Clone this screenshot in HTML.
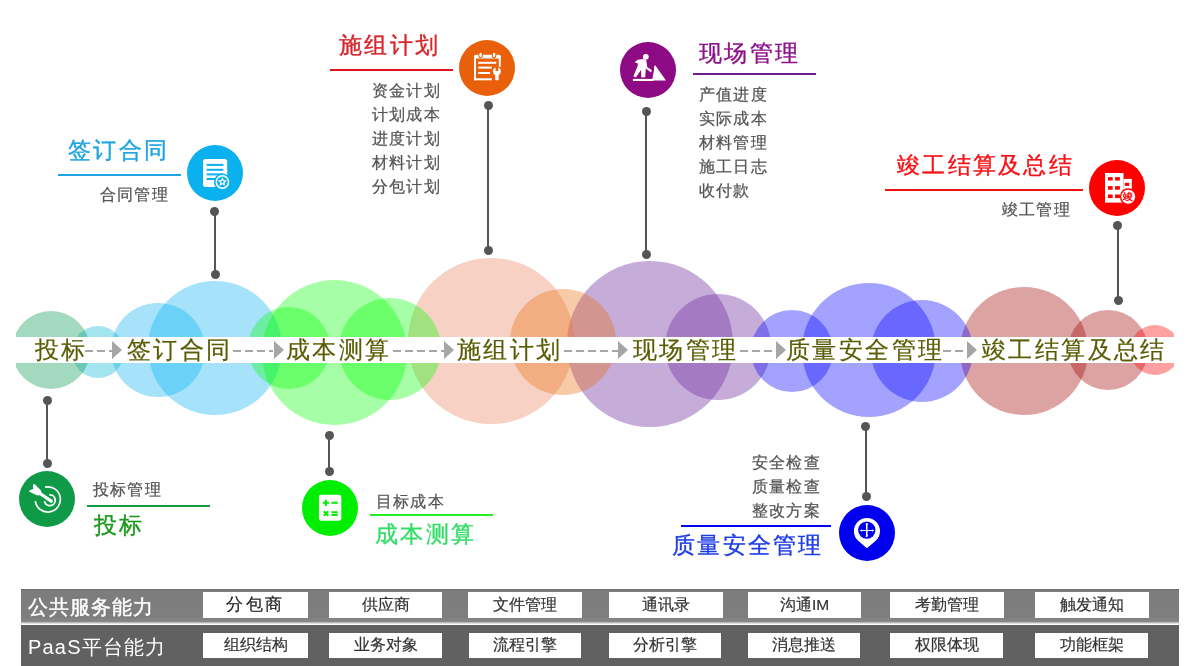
<!DOCTYPE html>
<html><head><meta charset="utf-8">
<style>
html,body{margin:0;padding:0;background:#fff;}
.a{will-change:transform;}
body{width:1200px;height:666px;position:relative;overflow:hidden;font-family:"Liberation Sans",sans-serif;}
.a{position:absolute;white-space:nowrap;line-height:1;}
.band{position:absolute;left:16px;top:0;width:1158px;height:666px;overflow:hidden;}
.c{position:absolute;border-radius:50%;}
.bt{font-size:24px;letter-spacing:2.4px;color:#5a5c04;top:338px;-webkit-text-stroke:0.2px currentColor;}
.tt{font-size:23px;letter-spacing:2.3px;-webkit-text-stroke:0.35px currentColor;}
.gt{font-size:16px;letter-spacing:1.2px;color:#555;-webkit-text-stroke:0.25px currentColor;}
.ul{position:absolute;height:2px;}
.dash{position:absolute;top:350px;height:2px;background:repeating-linear-gradient(90deg,#a6a6a6 0 8px,transparent 8px 12px);}
.tri{position:absolute;top:341px;width:0;height:0;border-top:9.8px solid transparent;border-bottom:9.8px solid transparent;border-left:10px solid #a6a6a6;}
.ln{position:absolute;width:2px;background:#555;}
.dot{position:absolute;width:9px;height:9px;border-radius:50%;background:#555;}
.ic{position:absolute;width:56px;height:56px;border-radius:50%;}
.ic svg{position:absolute;left:0;top:0;}
.bar{position:absolute;left:21px;width:1158px;}
.bx{position:absolute;background:#fff;color:#333;text-align:center;font-size:15.5px;will-change:transform;-webkit-text-stroke:0.2px #333;}
</style></head><body>
<div class="band">
 <div class="c" style="left:551.3px;top:261px;width:166px;height:166px;background:rgba(112,48,160,0.4)"></div>
 <div class="c" style="left:649px;top:294px;width:106px;height:106px;background:rgba(112,48,160,0.4)"></div>
 <div class="c" style="left:944px;top:287px;width:128px;height:128px;background:rgba(160,0,0,0.36)"></div>
 <div class="c" style="left:1052px;top:310.3px;width:80px;height:80px;background:rgba(160,0,0,0.36)"></div>
 <div class="c" style="left:1114px;top:325.3px;width:50px;height:50px;background:rgba(255,0,0,0.37)"></div>
 <div class="c" style="left:392px;top:258px;width:166px;height:166px;background:rgba(232,124,83,0.35)"></div>
 <div class="c" style="left:493.5px;top:289px;width:106px;height:106px;background:rgba(232,106,6,0.35)"></div>
 <div class="c" style="left:735px;top:309.5px;width:82px;height:82px;background:rgba(0,0,255,0.36)"></div>
 <div class="c" style="left:786.3px;top:283.3px;width:134px;height:134px;background:rgba(0,0,255,0.36)"></div>
 <div class="c" style="left:854.8px;top:299.8px;width:102px;height:102px;background:rgba(0,0,255,0.36)"></div>
 <div class="c" style="left:95px;top:303px;width:94px;height:94px;background:rgba(0,176,240,0.35)"></div>
 <div class="c" style="left:131.5px;top:281px;width:134px;height:134px;background:rgba(0,176,240,0.35)"></div>
 <div class="c" style="left:232.3px;top:307px;width:82px;height:82px;background:rgba(0,255,0,0.35)"></div>
 <div class="c" style="left:246px;top:279.5px;width:145px;height:145px;background:rgba(0,255,0,0.35)"></div>
 <div class="c" style="left:322.8px;top:297.8px;width:102px;height:102px;background:rgba(0,255,0,0.35)"></div>
 <div class="c" style="left:55.5px;top:325.7px;width:52px;height:52px;background:rgba(0,180,208,0.36)"></div>
 <div class="c" style="left:-4.5px;top:311px;width:78px;height:78px;background:rgba(0,150,77,0.36)"></div>
 <div style="position:absolute;left:0;top:337px;width:1158px;height:26px;background:#fff"></div>
</div>
<!-- band text -->
<div class="a bt" style="left:34.8px">投标</div>
<div class="a bt" style="left:127px">签订合同</div>
<div class="a bt" style="left:286px">成本测算</div>
<div class="a bt" style="left:457px">施组计划</div>
<div class="a bt" style="left:633px">现场管理</div>
<div class="a bt" style="left:786px">质量安全管理</div>
<div class="a bt" style="left:982px">竣工结算及总结</div>
<div class="dash" style="left:85px;width:27px"></div><div class="tri" style="left:112px"></div>
<div class="dash" style="left:233px;width:40px"></div><div class="tri" style="left:274px"></div>
<div class="dash" style="left:393px;width:51px"></div><div class="tri" style="left:444px"></div>
<div class="dash" style="left:564px;width:54px"></div><div class="tri" style="left:618px"></div>
<div class="dash" style="left:740px;width:36px"></div><div class="tri" style="left:776px"></div>
<div class="dash" style="left:943px;width:24px"></div><div class="tri" style="left:967px"></div>
<!-- connectors -->
<div class="ln" style="left:214px;top:211px;height:63px"></div><div class="dot" style="left:210px;top:207px"></div><div class="dot" style="left:211px;top:269.6px"></div>
<div class="ln" style="left:487.3px;top:105px;height:145px"></div><div class="dot" style="left:483.5px;top:100.5px"></div><div class="dot" style="left:484px;top:245.8px"></div>
<div class="ln" style="left:645.3px;top:111px;height:143px"></div><div class="dot" style="left:641.5px;top:107px"></div><div class="dot" style="left:642px;top:249.5px"></div>
<div class="ln" style="left:1117px;top:225px;height:75px"></div><div class="dot" style="left:1113px;top:220.5px"></div><div class="dot" style="left:1114px;top:295.5px"></div>
<div class="ln" style="left:46.3px;top:400px;height:63px"></div><div class="dot" style="left:42.5px;top:395.5px"></div><div class="dot" style="left:43px;top:458.5px"></div>
<div class="ln" style="left:328px;top:435px;height:36px"></div><div class="dot" style="left:324.5px;top:430.5px"></div><div class="dot" style="left:324.5px;top:466.5px"></div>
<div class="ln" style="left:865px;top:426px;height:70px"></div><div class="dot" style="left:860.5px;top:421.5px"></div><div class="dot" style="left:862px;top:492px"></div>
<!-- groups: titles -->
<div class="a tt" style="left:67.5px;top:138.5px;color:#1ea4e2">签订合同</div>
<div class="ul" style="left:58px;top:174px;width:123px;background:#1ea4e2"></div>
<div class="a gt" style="left:100px;top:186.5px">合同管理</div>

<div class="a tt" style="left:339px;top:34px;color:#d6262c">施组计划</div>
<div class="ul" style="left:330px;top:69px;width:123px;background:#e0141c"></div>
<div class="a gt" style="left:371.5px;top:82.5px">资金计划</div>
<div class="a gt" style="left:371.5px;top:106.5px">计划成本</div>
<div class="a gt" style="left:371.5px;top:130.5px">进度计划</div>
<div class="a gt" style="left:371.5px;top:154.5px">材料计划</div>
<div class="a gt" style="left:371.5px;top:178.5px">分包计划</div>

<div class="a tt" style="left:699px;top:41.5px;color:#8c1289">现场管理</div>
<div class="ul" style="left:693px;top:73px;width:123px;background:#6a1b8e"></div>
<div class="a gt" style="left:698.5px;top:87px">产值进度</div>
<div class="a gt" style="left:698.5px;top:111px">实际成本</div>
<div class="a gt" style="left:698.5px;top:135px">材料管理</div>
<div class="a gt" style="left:698.5px;top:159px">施工日志</div>
<div class="a gt" style="left:698.5px;top:183px">收付款</div>

<div class="a tt" style="left:897px;top:154px;color:#f80f14">竣工结算及总结</div>
<div class="ul" style="left:885px;top:189px;width:198px;background:#ee1111"></div>
<div class="a gt" style="left:1002px;top:202px">竣工管理</div>

<div class="a gt" style="left:93px;top:482px">投标管理</div>
<div class="ul" style="left:87px;top:505px;width:123px;background:#149b40"></div>
<div class="a tt" style="left:94px;top:514px;color:#1a981a">投标</div>

<div class="a gt" style="left:375.5px;top:493.5px">目标成本</div>
<div class="ul" style="left:370px;top:514px;width:123px;background:#22ee22"></div>
<div class="a tt" style="left:374.5px;top:523px;color:#33dd66">成本测算</div>

<div class="a gt" style="left:752px;top:455px">安全检查</div>
<div class="a gt" style="left:752px;top:479px">质量检查</div>
<div class="a gt" style="left:752px;top:503px">整改方案</div>
<div class="ul" style="left:681px;top:525px;width:150px;background:#0000ee"></div>
<div class="a tt" style="left:671.5px;top:533.5px;color:#1e3ce6">质量安全管理</div>

<!-- icons -->
<div class="ic" style="left:187px;top:145px;background:#0bb0ee">
<svg width="56" height="56" viewBox="0 0 56 56">
 <rect x="16" y="14" width="24.2" height="28.1" rx="2.5" fill="#fff"/>
 <rect x="19.6" y="18.9" width="16.8" height="2" fill="#0bb0ee"/>
 <rect x="19.6" y="23.8" width="16.8" height="2" fill="#0bb0ee"/>
 <rect x="19.6" y="28.4" width="16.8" height="2" fill="#0bb0ee"/>
 <rect x="19.6" y="33" width="12" height="2" fill="#0bb0ee"/>
 <circle cx="35.4" cy="37" r="8.6" fill="#0bb0ee"/>
 <circle cx="35.4" cy="37" r="6.9" fill="#fff"/>
 <circle cx="35.4" cy="37" r="5.4" fill="#0bb0ee"/>
 <path d="M35.4 32.3 L36.8 35.3 L40 35.6 L37.6 37.7 L38.3 40.9 L35.4 39.3 L32.5 40.9 L33.2 37.7 L30.8 35.6 L34 35.3 Z" fill="#fff"/>
 <path d="M35.4 35 L36 36.3 L37.3 36.4 L36.3 37.3 L36.6 38.6 L35.4 37.9 L34.2 38.6 L34.5 37.3 L33.5 36.4 L34.8 36.3 Z" fill="#0bb0ee"/>
</svg></div>

<div class="ic" style="left:459px;top:40px;background:#e8600a">
<svg width="56" height="56" viewBox="0 0 56 56" fill="#fff">
 <rect x="15" y="14.75" width="26.75" height="3.75" rx="1.5"/>
 <rect x="15" y="16" width="2" height="24.3"/>
 <rect x="15" y="38.3" width="17.8" height="2"/>
 <rect x="39.75" y="16" width="2" height="10.8"/>
 <ellipse cx="21.6" cy="15" rx="2.3" ry="3.3" fill="#e8600a"/>
 <ellipse cx="21.6" cy="15" rx="1.3" ry="2.3"/>
 <ellipse cx="35.1" cy="15" rx="2.3" ry="3.3" fill="#e8600a"/>
 <ellipse cx="35.1" cy="15" rx="1.3" ry="2.3"/>
 <rect x="19.25" y="21.8" width="18" height="2"/>
 <rect x="19.25" y="26.6" width="13.5" height="2"/>
 <rect x="19.25" y="32" width="11.8" height="2"/>
 <circle cx="37.9" cy="31.3" r="3.9"/>
 <rect x="36.2" y="33" width="3.5" height="7.3" rx="0.8"/>
 <rect x="36.6" y="26.5" width="2.6" height="4.5" fill="#e8600a"/>
</svg></div>

<div class="ic" style="left:620px;top:42px;background:#8e0a84">
<svg width="56" height="56" viewBox="0 0 56 56" fill="#fff">
 <circle cx="25.8" cy="14.8" r="2.9"/>
 <path d="M15 19.8 L17.9 17.7 L23.1 16.9 L26.3 18.2 L27.3 25.3 L31.8 28 L31 30.6 L25.8 26.4 L25.2 35.3 L21.3 35.6 L21 28 L15.8 35.6 L13.4 34.3 L17.9 23.2 L17.6 20.9 L15.8 21.1 Z"/>
 <path d="M35.2 23.2 L46 38.5 L32.1 38.5 L34.2 26.9 L33.9 24.8 Z"/>
 <rect x="12.9" y="36.9" width="20.5" height="2.1"/>
</svg></div>

<div class="ic" style="left:1089px;top:160px;background:#ff0000">
<svg width="56" height="56" viewBox="0 0 56 56">
 <rect x="16" y="13" width="18.5" height="29.6" fill="#fff"/>
 <rect x="34.5" y="18.9" width="8.3" height="12" fill="#fff"/>
 <g fill="#f00">
 <rect x="18.9" y="17.1" width="4.8" height="3.4"/><rect x="26.1" y="17.1" width="4.8" height="3.4"/>
 <rect x="18.9" y="26.1" width="4.8" height="3.6"/><rect x="26.1" y="26.1" width="4.8" height="3.6"/>
 <rect x="18.9" y="34.5" width="4.8" height="3.6"/><rect x="26.1" y="34.5" width="4.8" height="3.6"/>
 <rect x="35.8" y="22.8" width="4.4" height="3.1"/>
 </g>
 <circle cx="39.2" cy="36.7" r="8.4" fill="#f00"/>
 <circle cx="39.2" cy="36.7" r="7" fill="#fff"/>
 <text x="39.2" y="40.3" font-size="9.5" font-weight="700" text-anchor="middle" fill="#f00" font-family="Liberation Sans">竣</text>
</svg></div>

<div class="ic" style="left:19px;top:471px;background:#0f9a48">
<svg width="56" height="56" viewBox="0 0 56 56">
 <path d="M26.1 16.1 A12.6 12.6 0 1 1 16.3 30.1" fill="none" stroke="#fff" stroke-width="1.7"/>
 <path d="M30.3 23.85 A5.4 5.4 0 1 1 25.5 30.3" fill="none" stroke="#fff" stroke-width="1.8"/>
 <path d="M21 22.5 L32.2 30.2" stroke="#fff" stroke-width="3.3" stroke-linecap="round"/>
 <path d="M14.3 13.2 L15.9 13.2 L22.2 19.8 L22.4 22 L20 24.5 L17.8 24.3 L10.4 20.8 L10.2 19.6 L14.3 17.9 L13.9 14 Z" fill="#fff"/>
</svg></div>

<div class="ic" style="left:302px;top:480px;background:#00ee00">
<svg width="56" height="56" viewBox="0 0 56 56">
 <rect x="16.9" y="14.8" width="22.4" height="26" rx="2.2" fill="#fff"/>
 <g stroke="#00ee00" stroke-width="2">
 <path d="M20.8 22.8 H27 M23.9 19.7 V25.9"/>
 <path d="M29.5 22.8 H35.7"/>
 <path d="M21.8 31.3 L26.3 35.8 M26.3 31.3 L21.8 35.8"/>
 <path d="M29.5 32.2 H35.7 M29.5 35.1 H35.7"/>
 </g>
</svg></div>

<div class="ic" style="left:839px;top:505px;background:#0000ee">
<svg width="56" height="56" viewBox="0 0 56 56">
 <path d="M19.22 35.65 A13.05 13.05 0 1 1 36.68 35.65 L28.9 42.6 Q27.95 43.4 27 42.6 Z" fill="#fff"/>
 <circle cx="27.8" cy="25.1" r="8.7" fill="#0000ee"/>
 <path d="M21.5 25.5 H34.4" stroke="#fff" stroke-width="1"/>
 <path d="M27.8 19.2 V31" stroke="#fff" stroke-width="1.5"/>
 <g fill="#fff">
 <path d="M20.9 25.5 L22.9 24.2 V26.8 Z"/><path d="M35 25.5 L33 24.2 V26.8 Z"/>
 <circle cx="27.8" cy="19.2" r="1.1"/><circle cx="27.8" cy="31" r="1.1"/>
 </g>
</svg></div>

<!-- bottom bars -->
<div class="bar" style="top:589.3px;height:32.5px;background:linear-gradient(#707070 0,#7d7d7d 3px,#7e7e7e 28px,#888 32.5px)"></div>
<div class="bar" style="top:621.8px;height:2.4px;background:linear-gradient(#a8a8a8,#f0f0f0)"></div>
<div class="bar" style="top:625.4px;height:40.6px;background:#616161"></div>
<div class="a" style="left:28px;top:596.5px;font-size:20px;letter-spacing:1.1px;-webkit-text-stroke:0.45px #fff;color:#fff">公共服务能力</div>
<div class="a" style="left:27.5px;top:636.5px;font-size:20px;letter-spacing:1.2px;color:#fff">PaaS平台能力</div>
<div class="bx" style="left:203px;top:592px;width:105px;height:25.6px;line-height:25.6px;font-size:17px;letter-spacing:2.5px;color:#222;-webkit-text-stroke:0.2px #222">分包商</div>
<div class="bx" style="left:329px;top:592px;width:113px;height:25.6px;line-height:25.6px">供应商</div>
<div class="bx" style="left:468px;top:592px;width:114px;height:25.6px;line-height:25.6px">文件管理</div>
<div class="bx" style="left:608.5px;top:592px;width:113.5px;height:25.6px;line-height:25.6px">通讯录</div>
<div class="bx" style="left:748px;top:592px;width:113px;height:25.6px;line-height:25.6px">沟通IM</div>
<div class="bx" style="left:890px;top:592px;width:113.5px;height:25.6px;line-height:25.6px">考勤管理</div>
<div class="bx" style="left:1035px;top:592px;width:113.7px;height:25.6px;line-height:25.6px">触发通知</div>
<div class="bx" style="left:203px;top:633.3px;width:105px;height:24.7px;line-height:24.7px">组织结构</div>
<div class="bx" style="left:329px;top:633.3px;width:113px;height:24.7px;line-height:24.7px">业务对象</div>
<div class="bx" style="left:469px;top:633.3px;width:112px;height:24.7px;line-height:24.7px">流程引擎</div>
<div class="bx" style="left:609px;top:633.3px;width:112px;height:24.7px;line-height:24.7px">分析引擎</div>
<div class="bx" style="left:748px;top:633.3px;width:112px;height:24.7px;line-height:24.7px">消息推送</div>
<div class="bx" style="left:890px;top:633.3px;width:113px;height:24.7px;line-height:24.7px">权限体现</div>
<div class="bx" style="left:1035px;top:633.3px;width:113px;height:24.7px;line-height:24.7px">功能框架</div>
</body></html>
